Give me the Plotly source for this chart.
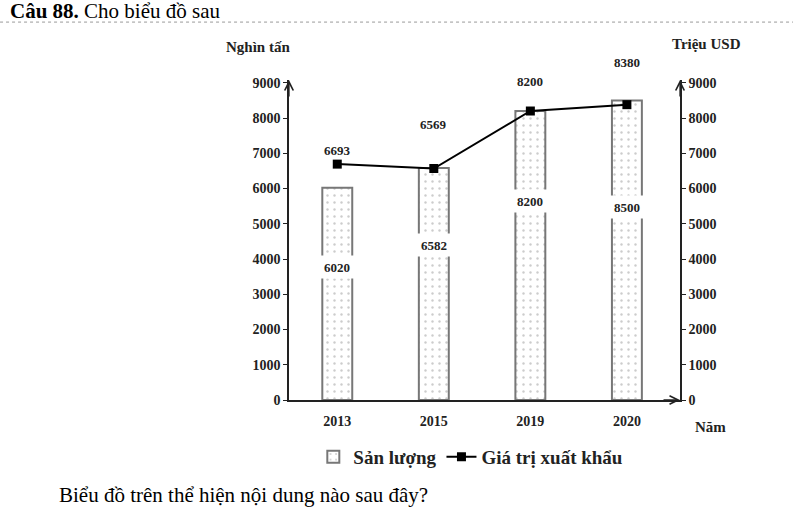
import plotly.graph_objects as go

years = ["2013", "2015", "2019", "2020"]
san_luong = [6020, 6582, 8200, 8500]        # nghìn tấn
gia_tri_xk = [6693, 6569, 8200, 8380]       # triệu USD
y_ticks = [0, 1000, 2000, 3000, 4000, 5000, 6000, 7000, 8000, 9000]

SERIF = "Liberation Serif, Times New Roman, serif"
YMAX = 9080

fig = go.Figure()

fig.add_trace(go.Bar(
    x=years,
    y=san_luong,
    name="Sản lượng",
    width=0.31,
    marker=dict(
        color="white",
        line=dict(color="#777777", width=2),
        pattern=dict(shape=".", fgcolor="#9a9a9a", bgcolor="white", size=7, solidity=0.1),
    ),
))

fig.add_trace(go.Scatter(
    x=years,
    y=gia_tri_xk,
    name="Giá trị xuất khẩu",
    yaxis="y2",
    mode="lines+markers",
    line=dict(color="black", width=2),
    marker=dict(symbol="square", size=9, color="black"),
))

annotations = []
label_font = dict(family=SERIF, size=13, color="#222", weight="bold")

# nhãn giá trị cột (nền trắng đè lên cột)
bar_label_pos = [0.627, 0.668, 0.689, 0.644]
for i, (v, f) in enumerate(zip(san_luong, bar_label_pos)):
    annotations.append(dict(
        x=i, y=v * f, text=str(v), showarrow=False,
        xanchor="center", yanchor="middle",
        bgcolor="white", width=38, height=20, font=label_font,
    ))

# nhãn giá trị đường
line_label_shift = [14, 44, 30, 42]
for i, (v, s) in enumerate(zip(gia_tri_xk, line_label_shift)):
    annotations.append(dict(
        x=i, y=v, yref="y2", text=str(v), showarrow=False,
        xanchor="center", yanchor="middle", yshift=s, font=label_font,
    ))

# mũi tên trục
for ax_x, ax_y, tip_x, tip_y in [(0, 18, 0, 1), (0, 18, 1, 1), (-18, 0, 1, 0)]:
    annotations.append(dict(
        x=tip_x, y=tip_y, xref="paper", yref="paper",
        ax=ax_x, ay=ax_y, showarrow=True, arrowhead=5,
        arrowsize=1.3, arrowwidth=1.3, arrowcolor="#222", text="",
    ))

axis_font = dict(family=SERIF, size=14, color="#222", weight="bold")
title_font = dict(family=SERIF, size=15, color="#222", weight="bold")
annotations += [
    dict(x=-0.079, y=1.103, xref="paper", yref="paper", text="Nghìn tấn",
         xanchor="center", yanchor="middle", showarrow=False, font=title_font),
    dict(x=1.069, y=1.1125, xref="paper", yref="paper", text="Triệu USD",
         xanchor="center", yanchor="middle", showarrow=False, font=title_font),
    dict(x=1.079, y=-0.084, xref="paper", yref="paper", text="Năm",
         xanchor="center", yanchor="middle", showarrow=False, font=title_font),
    dict(x=-0.7187, y=1.2156, xref="paper", yref="paper",
         xanchor="left", yanchor="middle",
         text="<b>Câu 88.</b> Cho biểu đồ sau", showarrow=False,
         font=dict(family=SERIF, size=21, color="black")),
    dict(x=-0.593, y=-0.297, xref="paper", yref="paper",
         xanchor="left", yanchor="middle",
         text="Biểu đồ trên thể hiện nội dung nào sau đây?", showarrow=False,
         font=dict(family=SERIF, size=21, color="black")),
]

fig.update_layout(
    width=793, height=508,
    margin=dict(l=289, r=113, t=80, b=108),
    paper_bgcolor="white",
    plot_bgcolor="white",
    font=dict(family=SERIF, color="#222"),
    annotations=annotations,
    shapes=[dict(type="line", xref="paper", yref="paper",
                 x0=-0.739, x1=1.289, y0=1.181, y1=1.181,
                 line=dict(color="#999", width=1, dash="dot"))],
    showlegend=True,
    legend=dict(
        orientation="h", x=0.465, y=-0.178, xanchor="center", yanchor="middle",
        font=dict(family=SERIF, size=19, color="#222", weight="bold"),
        itemwidth=30, tracegroupgap=0,
    ),
)

fig.update_xaxes(
    type="category", range=[-0.5, 3.55],
    showline=True, linecolor="#222", linewidth=1.5,
    showgrid=False, ticks="", ticklabelstandoff=7,
    tickfont=axis_font,
)
fig.update_layout(
    yaxis=dict(
        range=[0, YMAX], tickvals=y_ticks, showgrid=False, zeroline=False,
        showline=True, linecolor="#222", linewidth=1.5,
        ticks="outside", ticklen=4, tickcolor="#222",
        tickfont=axis_font,
    ),
    yaxis2=dict(
        range=[0, YMAX], tickvals=y_ticks, overlaying="y", side="right",
        showgrid=False, zeroline=False,
        showline=True, linecolor="#222", linewidth=1.5,
        ticks="outside", ticklen=4, tickcolor="#222",
        tickfont=axis_font,
    ),
)

fig.write_html("out.html", config={"displayModeBar": False},
               post_script="document.body.style.margin='0';")
